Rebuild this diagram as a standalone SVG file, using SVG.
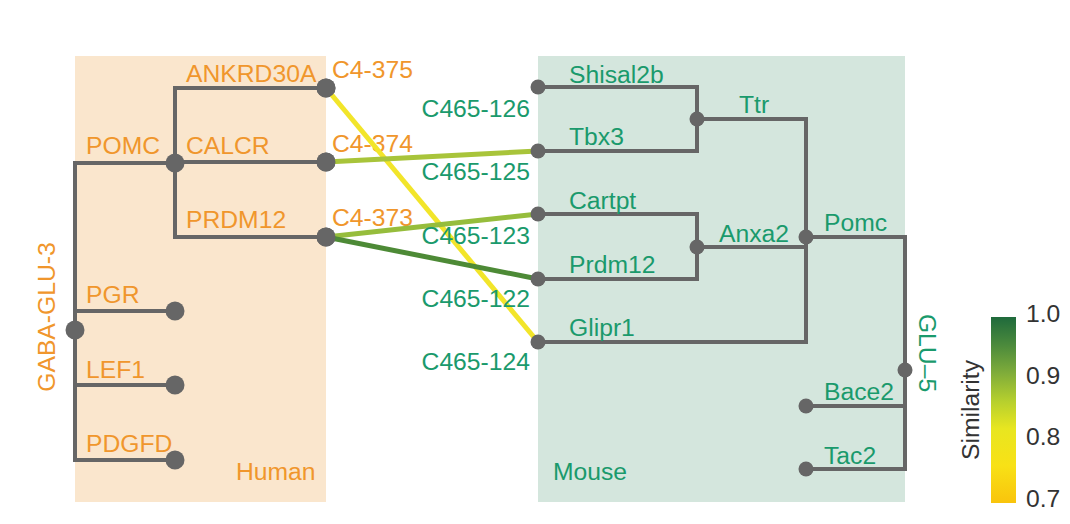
<svg xmlns="http://www.w3.org/2000/svg" width="1070" height="524" viewBox="0 0 1070 524">
<defs>
<linearGradient id="sim" x1="0" y1="1" x2="0" y2="0">
<stop offset="0" stop-color="#f9c40c"/>
<stop offset="0.2" stop-color="#f8e116"/>
<stop offset="0.4" stop-color="#e8e620"/>
<stop offset="0.55" stop-color="#b5cf2e"/>
<stop offset="0.7" stop-color="#7fac3a"/>
<stop offset="0.85" stop-color="#4b8a3c"/>
<stop offset="1" stop-color="#1f6a3c"/>
</linearGradient>
<style>
.tr{fill:none;stroke:#666;stroke-width:4;stroke-linecap:square}
.dot{fill:#666}
.h{font-family:"Liberation Sans",Arial,sans-serif;font-size:24.7px;fill:#f0962c}
.m{font-family:"Liberation Sans",Arial,sans-serif;font-size:24.7px;fill:#1a9a6c}
.k{font-family:"Liberation Sans",Arial,sans-serif;font-size:24.7px;fill:#333}
.cn{fill:none;stroke-width:5}
</style>
</defs>
<rect width="1070" height="524" fill="#fff"/>
<rect x="75" y="56" width="251" height="446" fill="#fae6cd"/>
<rect x="538" y="56" width="367" height="446" fill="#d4e6dd"/>
<text class="h" x="236" y="480">Human</text>
<text class="m" x="553" y="480">Mouse</text>

<g id="human-tree">
<path class="tr" d="M75,163 V460 M75,163 H175 M175,88 V237 M175,88 H326 M175,162 H326 M175,237 H326 M75,311 H175 M75,385 H175 M75,460 H175"/>
</g>
<g id="GABA-GLU-3"><circle class="dot" cx="75" cy="330" r="9.5"/><text class="h" transform="translate(55,317) rotate(-90)" text-anchor="middle">GABA-GLU-3</text></g>
<g id="POMC-h"><circle class="dot" cx="175" cy="163" r="9.5"/><text class="h" x="86" y="154">POMC</text></g>
<g id="ANKRD30A"><circle class="dot" cx="326" cy="88" r="9.5"/><text class="h" x="186" y="82">ANKRD30A</text><text class="h" x="332" y="78">C4-375</text></g>
<g id="CALCR"><circle class="dot" cx="326" cy="162" r="9.5"/><text class="h" x="186" y="154">CALCR</text><text class="h" x="332" y="152">C4-374</text></g>
<g id="PRDM12"><circle class="dot" cx="326" cy="237" r="9.5"/><text class="h" x="186" y="228">PRDM12</text><text class="h" x="332" y="226">C4-373</text></g>
<g id="PGR"><circle class="dot" cx="175" cy="311" r="9.5"/><text class="h" x="86" y="303">PGR</text></g>
<g id="LEF1"><circle class="dot" cx="175" cy="385" r="9.5"/><text class="h" x="86" y="378">LEF1</text></g>
<g id="PDGFD"><circle class="dot" cx="175" cy="460" r="9.5"/><text class="h" x="86" y="452">PDGFD</text></g>

<g id="mouse-tree">
<path class="tr" d="M538,87 H697 M538,151 H697 M697,87 V151 M697,119 H806 M538,214 H697 M538,279 H697 M697,214 V279 M697,247 H806 M538,342 H806 M806,119 V342 M806,237 H905 M905,237 V469 M806,406 H905 M806,469 H905"/>
</g>
<g id="connectors">
<line class="cn" x1="326" y1="88" x2="538" y2="342" stroke="#f2e52a"/>
<line class="cn" x1="326" y1="162" x2="538" y2="151" stroke="#a8c43a"/>
<line class="cn" x1="326" y1="237" x2="538" y2="214" stroke="#96bd3c"/>
<line class="cn" x1="326" y1="237" x2="538" y2="279" stroke="#4d8a36"/>
</g>
<g id="dots-over">
<circle class="dot" cx="326" cy="88" r="9.5"/><circle class="dot" cx="326" cy="162" r="9.5"/><circle class="dot" cx="326" cy="237" r="9.5"/>
</g>
<g id="Shisal2b"><circle class="dot" cx="538" cy="87" r="7.5"/><text class="m" x="569" y="83">Shisal2b</text><text class="m" x="530" y="117" text-anchor="end">C465-126</text></g>
<g id="Tbx3"><circle class="dot" cx="538" cy="151" r="7.5"/><text class="m" x="569" y="145">Tbx3</text><text class="m" x="530" y="180" text-anchor="end">C465-125</text></g>
<g id="Cartpt"><circle class="dot" cx="538" cy="214" r="7.5"/><text class="m" x="569" y="209">Cartpt</text><text class="m" x="530" y="244" text-anchor="end">C465-123</text></g>
<g id="Prdm12"><circle class="dot" cx="538" cy="279" r="7.5"/><text class="m" x="569" y="273">Prdm12</text><text class="m" x="530" y="307" text-anchor="end">C465-122</text></g>
<g id="Glipr1"><circle class="dot" cx="538" cy="342" r="7.5"/><text class="m" x="569" y="336">Glipr1</text><text class="m" x="530" y="370" text-anchor="end">C465-124</text></g>
<g id="Ttr"><circle class="dot" cx="697" cy="119" r="7.5"/><text class="m" x="739" y="113">Ttr</text></g>
<g id="Anxa2"><circle class="dot" cx="697" cy="247" r="7.5"/><text class="m" x="719" y="242">Anxa2</text></g>
<g id="Pomc"><circle class="dot" cx="806" cy="237" r="7.5"/><text class="m" x="824" y="231">Pomc</text></g>
<g id="GLU-5"><circle class="dot" cx="905" cy="370" r="7.5"/><text class="m" transform="translate(919,353) rotate(90)" text-anchor="middle">GLU–5</text></g>
<g id="Bace2"><circle class="dot" cx="806" cy="406" r="7.5"/><text class="m" x="824" y="400">Bace2</text></g>
<g id="Tac2"><circle class="dot" cx="806" cy="469" r="7.5"/><text class="m" x="824" y="464">Tac2</text></g>

<g id="legend">
<rect x="991" y="317" width="25" height="186" fill="url(#sim)"/>
<text class="k" transform="translate(979,410) rotate(-90)" text-anchor="middle">Similarity</text>
<text class="k" x="1026" y="322">1.0</text>
<text class="k" x="1026" y="384">0.9</text>
<text class="k" x="1026" y="445">0.8</text>
<text class="k" x="1026" y="507">0.7</text>
</g>
</svg>
